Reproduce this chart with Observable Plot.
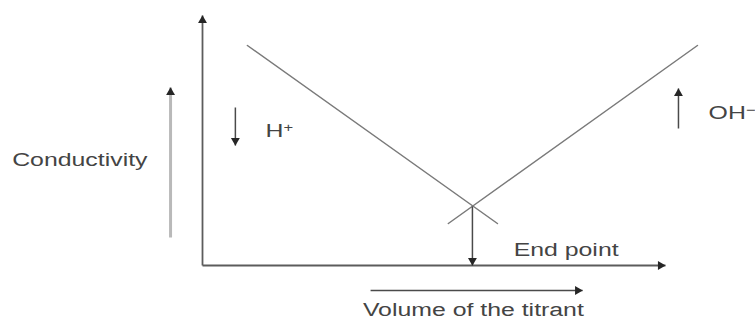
<!DOCTYPE html>
<html><head><meta charset="utf-8">
<script src="https://cdn.jsdelivr.net/npm/d3@7"></script>
<script src="https://cdn.jsdelivr.net/npm/@observablehq/plot@0.6"></script>
<style>body{margin:0;background:#fff}</style>
</head><body><div id="chart"></div>
<script>
// ---- data (volume of titrant, conductivity; arbitrary units) ----
const acidVolume = [0.97, 6.37];          // H+ branch (falling)
const acidConductivity = [8.8, 1.68];
const baseVolume = [5.31, 10.69];         // OH- branch (rising)
const baseConductivity = [1.68, 8.8];
const endPointVolume = 5.83;
const endPointConductivity = 2.36;
const axisMaxVolume = 10;
const axisMaxConductivity = 10;
const labelTexts = ["Conductivity", "Volume of the titrant", "End point", "H^+", "OH^−"];

// ---- tables built from the arrays ----
const branches = [
  ...acidVolume.map((v, i) => ({series: "H+", volume: v, conductivity: acidConductivity[i]})),
  ...baseVolume.map((v, i) => ({series: "OH-", volume: v, conductivity: baseConductivity[i]}))
];

// annotation layout (data units)
const axes = [
  {x1: 0, y1: 0, x2: 0, y2: axisMaxConductivity, dir: "up"},
  {x1: 0, y1: 0, x2: axisMaxVolume, y2: 0, dir: "right"}
];
const pointers = [
  {x1: 0.71, y1: 6.32, x2: 0.71, y2: 4.8, dir: "down"},
  {x1: 10.28, y1: 5.48, x2: 10.28, y2: 7.08, dir: "up"},
  {x1: endPointVolume, y1: endPointConductivity, x2: endPointVolume, y2: 0, dir: "down"},
  {x1: 3.63, y1: -1.0, x2: 8.21, y2: -1.0, dir: "right"}
];
const condArrow = [{x1: -0.69, y1: 1.12, x2: -0.69, y2: 7.12, dir: "up"}];
const centeredLabels = [
  {text: labelTexts[0], x: -2.65, y: 4.2},
  {text: labelTexts[1], x: 5.85, y: -1.8}
];
const startLabels = [
  {text: labelTexts[2], x: 6.72, y: 0.62},
  {text: labelTexts[3], x: 1.36, y: 5.38},
  {text: labelTexts[4], x: 10.93, y: 6.08}
];

const allArrows = [...axes, ...pointers, ...condArrow];
const heads = dir => allArrows.filter(d => d.dir === dir);
const font = "Liberation Sans, Arial, Helvetica, sans-serif";

const headMark = (dir, rotate, dx, dy) => Plot.dot(heads(dir), {
  x: "x2", y: "y2", symbol: "triangle", r: 3.3, rotate, dx, dy,
  fill: "#262626", stroke: "none"
});

const chart = Plot.plot({
  width: 755, height: 320,
  marginLeft: 202, marginRight: 90, marginTop: 15, marginBottom: 55,
  x: {domain: [0, axisMaxVolume], axis: null},
  y: {domain: [0, axisMaxConductivity], axis: null},
  style: {background: "#fff"},
  marks: [
    Plot.link(condArrow, {x1: "x1", y1: "y1", x2: "x2", y2: "y2", stroke: "#b9b9b9", strokeWidth: 3}),
    Plot.link(axes, {x1: "x1", y1: "y1", x2: "x2", y2: "y2", stroke: "#5c5c5c", strokeWidth: 1.8}),
    Plot.line(branches, {x: "volume", y: "conductivity", z: "series", stroke: "#7a7a7a", strokeWidth: 1.5}),
    Plot.link(pointers, {x1: "x1", y1: "y1", x2: "x2", y2: "y2", stroke: "#4a4a4a", strokeWidth: 1.5}),
    headMark("up", 0, 0, 5),
    headMark("down", 180, 0, -5),
    headMark("right", 90, -5, 0),
    Plot.text(centeredLabels, {x: "x", y: "y", text: "text", textAnchor: "middle",
      fontSize: 18, fontFamily: font, fill: "#444"}),
    Plot.text(startLabels, {x: "x", y: "y", text: "text", textAnchor: "start",
      fontSize: 18, fontFamily: font, fill: "#444"})
  ]
});

document.getElementById("chart").append(chart);

// superscripts and horizontal stretch of the lettering
d3.select(chart).selectAll("text").each(function () {
  const t = this.textContent;
  if (t.includes("^")) {
    const [base, sup] = t.split("^");
    const sel = d3.select(this);
    sel.text(null);
    sel.append("tspan").text(base);
    sel.append("tspan").attr("font-size", 12).attr("dy", -5).text(sup);
  }
});
d3.select(chart).selectAll("text").each(function () {
  const L = this.getComputedTextLength();
  this.setAttribute("textLength", L * 1.38);
  this.setAttribute("lengthAdjust", "spacingAndGlyphs");
});
</script>
</body></html>
